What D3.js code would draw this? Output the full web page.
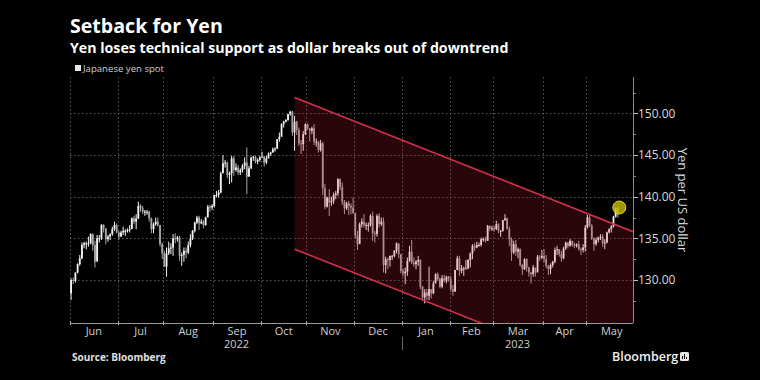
<!DOCTYPE html>
<html><head><meta charset="utf-8">
<script src="https://cdn.jsdelivr.net/npm/d3@7"></script>
<style>
body{margin:0;background:#000;}
svg{display:block;font-family:"Open Sans",sans-serif;}
</style>
</head><body>
<svg id="chart" width="760" height="380"></svg>
<script>
// ---------- DATA ----------
const title = "Setback for Yen";
const subtitle = "Yen loses technical support as dollar breaks out of downtrend";
const legendLabel = "Japanese yen spot";
const yAxisTitle = "Yen per US dollar";
const sourceText = "Source: Bloomberg";

const firstDate = "2022-06-01";   // daily bars, one per weekday
const lastDate = "2023-05-19";
const axisEndDate = "2023-05-30";
const firstOpen = 128.4;

// closes, highs, lows per weekday (Jun 2022 .. May 19 2023)
const close = [
// Jun 2022
130.0,129.9,130.9,131.9,132.6,134.2,134.4,134.4,134.4,135.5,134.2,132.2,135.0,135.0,136.6,136.2,134.9,135.2,135.5,136.1,136.6,135.7,
// Jul
135.2,135.7,135.9,135.9,136.0,136.1,137.4,137.0,137.4,138.9,138.6,138.2,138.2,138.2,137.4,136.1,136.7,137.0,136.6,134.3,133.2,
// Aug
131.6,133.2,133.8,133.9,135.0,134.9,135.1,132.9,133.0,133.5,133.3,134.2,135.0,135.9,136.9,137.5,136.8,137.0,136.6,137.5,138.8,138.7,138.9,
// Sep
140.2,140.2,140.5,142.8,144.0,144.1,142.6,142.8,144.6,143.2,143.5,142.9,143.2,143.7,144.1,142.4,143.4,144.7,144.8,144.2,144.4,144.7,
// Oct
144.8,144.1,144.6,145.1,145.3,145.7,145.8,146.9,147.2,148.7,149.0,149.2,149.9,150.2,147.7,149.0,148.0,146.4,146.3,147.5,148.7,
// Nov
148.2,147.9,148.2,146.6,146.6,145.6,146.4,141.0,138.8,139.9,139.3,139.5,140.2,140.4,142.1,141.2,139.4,138.6,139.2,138.9,138.7,138.0,
// Dec
135.3,134.3,136.7,137.0,136.6,136.6,136.6,137.7,135.6,135.5,137.7,136.7,137.0,131.8,132.5,132.4,132.9,132.9,133.5,134.4,133.1,131.1,
// Jan 2023
130.8,131.0,132.3,133.4,132.1,131.9,132.2,132.4,129.2,127.9,128.5,128.1,128.9,128.4,129.6,130.7,130.1,129.2,130.2,129.9,130.4,130.1,
// Feb
128.9,128.6,131.2,132.6,131.1,131.4,131.4,131.4,132.4,133.2,134.1,133.9,134.2,134.2,134.9,134.9,134.7,136.5,136.2,136.2,
// Mar
136.1,136.7,135.9,135.9,137.2,137.4,136.1,134.9,133.3,134.3,133.4,133.7,131.8,131.3,132.5,131.5,130.9,130.7,131.5,130.9,132.8,132.7,132.9,
// Apr
132.5,131.7,131.3,131.8,132.2,133.6,133.7,133.1,132.6,133.8,134.5,134.1,134.7,134.2,134.1,134.3,133.7,133.6,133.9,136.3,
// May
137.5,136.5,135.0,134.3,134.8,135.1,135.2,134.4,134.5,135.7,136.1,136.4,137.6,138.6,137.9
];
const high = [
130.2,130.3,130.9,132.0,133.0,134.5,134.6,134.6,135.2,135.6,135.6,134.7,135.4,135.4,136.7,136.7,136.2,135.4,135.6,136.4,137.0,136.8,
135.9,135.9,136.4,136.1,136.2,136.6,137.5,137.7,137.9,139.4,139.1,138.9,138.4,138.4,138.3,137.5,136.9,137.5,137.5,136.6,134.5,
133.5,133.9,134.6,134.4,135.5,135.6,135.3,135.3,133.3,133.9,133.9,134.6,135.5,136.0,137.0,137.7,137.7,137.3,137.2,137.6,139.0,139.0,139.1,
140.2,140.7,140.8,143.0,145.0,144.4,144.2,143.0,144.9,144.9,144.0,143.8,143.4,143.9,144.7,145.9,143.7,144.8,144.9,144.9,144.6,144.9,
145.4,144.9,144.9,145.3,145.4,145.9,145.9,146.9,147.7,148.8,149.1,149.3,149.9,150.3,150.3,149.7,149.1,148.3,146.8,147.9,148.8,
148.8,148.2,148.4,148.7,147.0,146.7,146.8,146.6,141.5,140.0,140.9,140.0,140.5,140.7,142.2,142.2,141.7,139.6,139.4,139.5,139.2,139.9,
138.1,135.9,136.9,137.4,137.9,136.9,136.9,137.9,138.2,135.9,137.9,138.0,137.5,137.5,132.8,132.7,132.9,133.0,133.6,134.5,134.3,133.1,
131.4,131.5,132.7,134.1,134.8,132.7,132.4,132.9,132.5,129.3,128.9,128.9,131.6,128.9,129.9,130.8,130.9,130.3,130.6,130.6,130.5,130.5,
130.5,129.4,131.2,132.9,132.9,131.8,131.6,132.4,132.5,133.3,134.3,134.4,134.6,134.5,135.1,135.1,135.2,136.6,136.5,136.5,
136.5,137.1,136.8,136.0,137.2,137.9,137.5,136.4,135.1,134.7,134.8,133.9,133.8,131.9,132.6,132.6,131.6,131.0,131.8,131.2,133.0,133.0,133.6,
133.7,133.0,131.8,132.0,132.3,133.9,134.1,133.7,133.5,134.0,134.6,134.5,134.9,134.7,134.5,134.4,134.7,133.9,134.3,136.6,
137.8,137.8,136.7,135.1,135.1,135.2,135.5,135.5,134.9,135.8,136.2,136.6,137.7,138.7,138.8
];
const low = [
127.6,129.5,129.7,130.8,131.7,132.5,133.8,133.7,134.0,134.3,133.5,131.5,132.4,134.5,134.8,135.7,134.3,134.6,134.8,135.3,135.9,135.6,
134.8,135.2,135.4,135.3,135.7,135.7,136.2,136.7,136.1,137.3,138.2,137.9,137.7,137.8,137.0,135.6,135.6,136.5,136.4,134.0,132.5,
131.6,130.4,133.0,133.1,132.9,134.4,134.6,132.3,131.7,132.2,132.6,133.1,133.9,134.8,135.7,136.7,136.0,136.7,136.2,136.5,137.6,138.2,138.4,
138.7,139.9,139.9,140.4,142.9,143.5,142.2,141.5,141.7,142.5,143.0,142.6,142.6,142.9,143.3,140.3,142.4,143.3,144.3,144.0,143.9,144.2,
144.7,143.6,143.9,144.6,144.9,145.3,145.4,145.7,146.6,147.2,148.3,148.9,149.1,149.7,147.3,145.5,147.4,146.1,145.1,145.5,147.4,
148.0,146.6,147.5,146.2,146.0,145.3,145.4,140.2,138.5,138.7,137.7,138.9,139.1,139.7,140.1,140.8,139.0,137.9,138.4,137.8,137.9,138.0,
135.0,133.6,134.5,136.3,136.3,136.0,135.8,136.4,134.7,134.5,135.2,136.3,136.5,130.9,130.8,131.3,131.6,132.4,132.7,133.2,132.6,130.8,
130.4,129.5,130.5,132.2,131.9,131.6,131.3,131.7,128.9,127.5,127.2,127.6,127.6,127.8,128.3,129.6,129.9,129.0,129.0,129.7,129.6,129.8,
128.6,128.1,128.6,131.2,130.5,130.8,130.5,131.3,131.3,131.5,132.5,133.5,133.8,134.0,134.0,134.6,134.5,134.7,135.9,135.9,
135.8,136.0,135.6,135.2,135.8,137.1,136.1,134.1,132.3,133.1,132.9,132.6,131.6,130.6,131.2,131.0,130.4,129.6,130.4,130.4,131.0,132.3,132.5,
132.1,131.4,130.6,130.7,131.5,132.0,133.0,132.8,132.2,132.5,133.6,133.8,134.0,134.0,133.8,133.9,133.5,133.0,133.3,133.4,
136.2,136.4,134.8,133.5,134.1,134.5,134.8,134.0,133.7,134.4,135.6,135.7,136.3,137.5,137.5
];

const yTicks = [130, 135, 140, 145, 150];
const yMinorTicks = [127.5, 132.5, 137.5, 142.5, 147.5, 152.5];
const yDomain = [124.84, 154.36];
const monthStarts = ["2022-06-01","2022-07-01","2022-08-01","2022-09-01","2022-10-03","2022-11-01","2022-12-01",
                     "2023-01-02","2023-02-01","2023-03-01","2023-04-03","2023-05-01","2023-06-01"];
const monthLabels = ["Jun","Jul","Aug","Sep","Oct","Nov","Dec","Jan","Feb","Mar","Apr","May"];
const yearLabels = ["2022","2023"];
const yearStarts = ["2022-06-01","2023-01-02","2023-05-30"];

// trend channel (date, value)
const channelStartDate = "2022-10-24";
const channelEndDate = "2023-05-30";
const channelUpper = [151.9, 135.8];
const channelLower = [133.7, 117.6];
const breakoutValue = 138.7;

// ---------- LAYOUT ----------
const W = 760, H = 380;
const plot = {left: 70, right: 633, top: 77, bottom: 323};

const parse = d3.utcParse("%Y-%m-%d");
const t0 = parse(firstDate);
function wdIndex(s) { // weekday index relative to firstDate
  const d = parse(s);
  let n = 0;
  if (d >= t0) {
    for (let t = new Date(t0); t < d; t = new Date(t.getTime() + 864e5)) {
      const wd = t.getUTCDay(); if (wd !== 0 && wd !== 6) n++;
    }
  } else {
    for (let t = new Date(d); t < t0; t = new Date(t.getTime() + 864e5)) {
      const wd = t.getUTCDay(); if (wd !== 0 && wd !== 6) n--;
    }
  }
  return n;
}
const bars = close.map((c, i) => ({i, c, h: high[i], l: low[i], o: i === 0 ? firstOpen : close[i - 1]}));

const x = d3.scaleLinear().domain([-0.5, wdIndex(axisEndDate)]).range([plot.left, plot.right]);
const y = d3.scaleLinear().domain(yDomain).range([plot.bottom, plot.top]);

const svg = d3.select("#chart");
svg.append("rect").attr("width", W).attr("height", H).attr("fill", "#000");

// titles
svg.append("text").attr("x", 70).attr("y", 33).text(title)
  .attr("fill", "#fff").attr("font-size", 19.6).attr("font-weight", 700);
svg.append("text").attr("x", 70).attr("y", 53).text(subtitle)
  .attr("fill", "#fff").attr("font-size", 14.2).attr("font-weight", 700);
// legend
svg.append("rect").attr("x", 75).attr("y", 65).attr("width", 6).attr("height", 6).attr("fill", "#e6e6e6");
svg.append("text").attr("x", 83).attr("y", 71.5).text(legendLabel)
  .attr("fill", "#cfcfcf").attr("font-size", 9.6);

// grid
const grid = svg.append("g").attr("stroke", "#5a5a5a").attr("stroke-dasharray", "1.5,2.5").attr("stroke-width", 1);
grid.selectAll("line.v").data(monthStarts.slice(0, 12)).join("line")
  .attr("x1", d => Math.round(x(wdIndex(d) - 0.5)) + 0.5).attr("x2", d => Math.round(x(wdIndex(d) - 0.5)) + 0.5)
  .attr("y1", plot.top).attr("y2", plot.bottom);
grid.selectAll("line.h").data(yTicks).join("line")
  .attr("x1", plot.left).attr("x2", plot.right)
  .attr("y1", d => Math.round(y(d)) + 0.5).attr("y2", d => Math.round(y(d)) + 0.5);

// clip
svg.append("clipPath").attr("id", "clip").append("rect")
  .attr("x", plot.left).attr("y", plot.top).attr("width", plot.right - plot.left).attr("height", plot.bottom - plot.top);

// candles
const cg = svg.append("g").attr("clip-path", "url(#clip)");
cg.selectAll("line.w").data(bars).join("line")
  .attr("x1", d => x(d.i)).attr("x2", d => x(d.i))
  .attr("y1", d => y(d.h)).attr("y2", d => y(d.l))
  .attr("stroke", d => d.c >= d.o ? "#f2f2f2" : "#a8a8a8").attr("stroke-width", 1);
cg.selectAll("rect.b").data(bars).join("rect")
  .attr("x", d => x(d.i) - 0.9).attr("width", 1.8)
  .attr("y", d => y(Math.max(d.o, d.c)))
  .attr("height", d => Math.max(1, Math.abs(y(d.o) - y(d.c))))
  .attr("fill", d => d.c >= d.o ? "#f2f2f2" : "#a8a8a8");

// channel
const xs = x(wdIndex(channelStartDate)), xe = x(wdIndex(channelEndDate));
const chg = svg.append("g").attr("clip-path", "url(#clip)");
chg.append("path")
  .attr("d", d3.line()([[xs, y(channelUpper[0])], [xe, y(channelUpper[1])], [xe, y(channelLower[1])], [xs, y(channelLower[0])]]) + "Z")
  .attr("fill", "#c8203a").attr("fill-opacity", 0.2);
chg.append("line").attr("x1", xs).attr("y1", y(channelUpper[0])).attr("x2", xe).attr("y2", y(channelUpper[1]))
  .attr("stroke", "#d23048").attr("stroke-width", 1.6);
chg.append("line").attr("x1", xs).attr("y1", y(channelLower[0])).attr("x2", xe).attr("y2", y(channelLower[1]))
  .attr("stroke", "#d23048").attr("stroke-width", 1.6);

// breakout marker
const last = bars[bars.length - 1];
svg.append("circle").attr("cx", x(last.i) + 1.5).attr("cy", y(breakoutValue)).attr("r", 6.5)
  .attr("fill", "#c8bb00").attr("fill-opacity", 0.8).attr("stroke", "#e8da10").attr("stroke-width", 1);

// y axis (right)
const yAxis = svg.append("g").attr("transform", `translate(${plot.right},0)`);
yAxis.append("line").attr("x1", 0.5).attr("x2", 0.5).attr("y1", plot.top).attr("y2", plot.bottom).attr("stroke", "#8a8a8a");
yAxis.selectAll("line.t").data(yTicks).join("line")
  .attr("x1", 0).attr("x2", 5).attr("y1", d => Math.round(y(d)) + 0.5).attr("y2", d => Math.round(y(d)) + 0.5).attr("stroke", "#bbb");
yAxis.selectAll("line.m").data(yMinorTicks).join("line")
  .attr("x1", 0).attr("x2", 3).attr("y1", d => Math.round(y(d)) + 0.5).attr("y2", d => Math.round(y(d)) + 0.5).attr("stroke", "#888");
yAxis.selectAll("text").data(yTicks).join("text")
  .attr("x", 5).attr("y", d => y(d)).attr("dy", "0.35em")
  .text(d => d3.format(".2f")(d)).attr("fill", "#d8d8d8").attr("font-size", 12);
svg.append("text").attr("transform", `translate(683,200) rotate(90)`).attr("text-anchor", "middle")
  .attr("dy", "0.35em").text(yAxisTitle).attr("fill", "#d8d8d8").attr("font-size", 13);

// x axis
const xAxis = svg.append("g");
xAxis.append("line").attr("x1", plot.left).attr("x2", plot.right).attr("y1", plot.bottom + 0.5).attr("y2", plot.bottom + 0.5).attr("stroke", "#9a9a9a");
xAxis.selectAll("line.t").data(monthStarts.slice(0, 12)).join("line")
  .attr("x1", d => Math.round(x(wdIndex(d) - 0.5)) + 0.5).attr("x2", d => Math.round(x(wdIndex(d) - 0.5)) + 0.5)
  .attr("y1", plot.bottom - 2).attr("y2", plot.bottom + 2).attr("stroke", "#aaa");
xAxis.selectAll("text.m").data(monthLabels).join("text")
  .attr("x", (d, i) => (x(wdIndex(monthStarts[i]) - 0.5) + Math.min(plot.right, x(wdIndex(monthStarts[i + 1]) - 0.5))) / 2 + (i === 11 ? 2 : 0))
  .attr("y", 334.5).attr("text-anchor", "middle").text(d => d)
  .attr("fill", "#cfcfcf").attr("font-size", 11);
xAxis.selectAll("text.y").data(yearLabels).join("text")
  .attr("x", (d, i) => (x(wdIndex(yearStarts[i]) - 0.5) + x(wdIndex(yearStarts[i + 1]))) / 2)
  .attr("y", 348).attr("text-anchor", "middle").text(d => d)
  .attr("fill", "#cfcfcf").attr("font-size", 11);
xAxis.append("line")
  .attr("x1", Math.round(x(wdIndex(yearStarts[1]) - 0.5)) + 0.5).attr("x2", Math.round(x(wdIndex(yearStarts[1]) - 0.5)) + 0.5)
  .attr("y1", 337).attr("y2", 350).attr("stroke", "#666");

// footer
svg.append("text").attr("x", 72).attr("y", 361).text(sourceText)
  .attr("fill", "#e0e0e0").attr("font-size", 10).attr("font-weight", 700);
svg.append("text").attr("x", 612).attr("y", 361).text("Bloomberg")
  .attr("fill", "#f0f0f0").attr("font-size", 12.5).attr("font-weight", 600);
const logo = svg.append("g").attr("transform", "translate(680,352)");
logo.append("rect").attr("width", 9).attr("height", 9).attr("rx", 1.5).attr("fill", "#e8e8e8");
[[2, 4, 3], [4, 2, 5], [6, 5, 2]].forEach(([bx, by, bh]) =>
  logo.append("rect").attr("x", bx).attr("y", by).attr("width", 1).attr("height", bh).attr("fill", "#000"));
</script>
</body></html>
